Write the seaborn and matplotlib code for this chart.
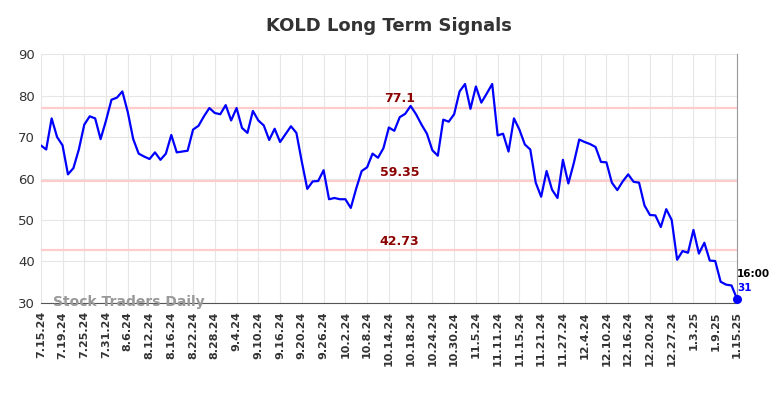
import numpy as np
import pandas as pd
import matplotlib
matplotlib.use("Agg")
import matplotlib.pyplot as plt
import seaborn as sns

# data
prices = [68, 67, 74.5, 70, 68, 61, 62.5, 67, 73, 75, 74.5, 69.5, 74, 79, 79.5, 81,
          76, 69.5, 66, 65.3, 64.7, 66.3, 64.5, 66, 70.5, 66.3, 66.5, 66.7, 71.8, 72.7,
          75, 77, 75.8, 75.5, 77.7, 74, 77, 72.2, 71, 76.3, 74, 72.8, 69.3, 72, 68.8,
          70.7, 72.6, 71, 64, 57.5, 59.3, 59.4, 62, 55, 55.3, 55, 55, 52.9, 57.6, 61.8,
          62.7, 66, 65, 67.3, 72.3, 71.5, 74.8, 75.6, 77.5, 75.5, 73, 70.8, 66.8, 65.5,
          74.2, 73.7, 75.5, 81, 82.8, 76.8, 82.2, 78.3, 80.5, 82.8, 70.4, 70.8, 66.5,
          74.5, 71.8, 68.2, 67, 59, 55.6, 61.8, 57.3, 55.3, 64.5, 58.8, 63.7, 69.4,
          68.8, 68.3, 67.6, 64, 63.9, 59, 57.2, 59.3, 61, 59.2, 59, 53.5, 51.2, 51.1,
          48.3, 52.6, 50, 40.4, 42.5, 42.1, 47.6, 41.9, 44.5, 40.2, 40.1, 35.1, 34.4,
          34.2, 31]
tick_labels = ["7.15.24", "7.19.24", "7.25.24", "7.31.24", "8.6.24", "8.12.24", "8.16.24",
               "8.22.24", "8.28.24", "9.4.24", "9.10.24", "9.16.24", "9.20.24", "9.26.24",
               "10.2.24", "10.8.24", "10.14.24", "10.18.24", "10.24.24", "10.30.24",
               "11.5.24", "11.11.24", "11.15.24", "11.21.24", "11.27.24", "12.4.24",
               "12.10.24", "12.16.24", "12.20.24", "12.27.24", "1.3.25", "1.9.25", "1.15.25"]
levels = [77.1, 59.35, 42.73]
level_labels = ["77.1", "59.35", "42.73"]

df = pd.DataFrame({"i": np.arange(len(prices)), "price": prices})

sns.set_style("whitegrid", {"grid.color": "#e6e6e6", "axes.edgecolor": "#e6e6e6"})
fig = plt.figure(figsize=(7.84, 3.98), dpi=100)
ax = fig.add_axes([0.052, 0.239, 0.888, 0.625])

for lv in levels:
    ax.axhline(lv, color="#ffcccc", lw=1.6, zorder=1)

sns.lineplot(data=df, x="i", y="price", ax=ax, color="#0000ff", lw=1.6, zorder=3)
last = len(prices) - 1
ax.scatter([last], [prices[-1]], s=30, color="#0000ff", zorder=4, clip_on=False)

for lv, lab in zip(levels, level_labels):
    ax.text(66, lv + 0.6, lab, color="#8b0000", fontsize=9, fontweight="bold",
            ha="center", va="bottom")

ax.text(last, 37, "16:00", fontsize=7.5, fontweight="bold", color="black", ha="left", va="center")
ax.text(last, 33.5, "31", fontsize=7.5, fontweight="bold", color="#0000ff", ha="left", va="center")
ax.text(2.3, 30.2, "Stock Traders Daily", fontsize=10, fontweight="bold", color="#999999",
        ha="left", va="center")

ax.set_xlim(0, last)
ax.set_ylim(30, 90)
ax.set_yticks(range(30, 91, 10))
ax.set_xticks(range(0, len(prices), 4))
ax.set_xticklabels(tick_labels, rotation=90, fontsize=8, fontweight="bold", color="#333333")
ax.tick_params(axis="y", labelsize=9.5, labelcolor="#333333", length=0, pad=4)
ax.tick_params(axis="x", length=0, pad=6)
ax.set_xlabel("")
ax.set_ylabel("")
for s in ["top", "left"]:
    ax.spines[s].set_visible(False)
ax.spines["bottom"].set_color("#555555")
ax.spines["right"].set_color("#999999")

ax.set_title("KOLD Long Term Signals", fontsize=13, fontweight="bold", color="#333333", pad=17)

fig.savefig("out.png", dpi=100)
